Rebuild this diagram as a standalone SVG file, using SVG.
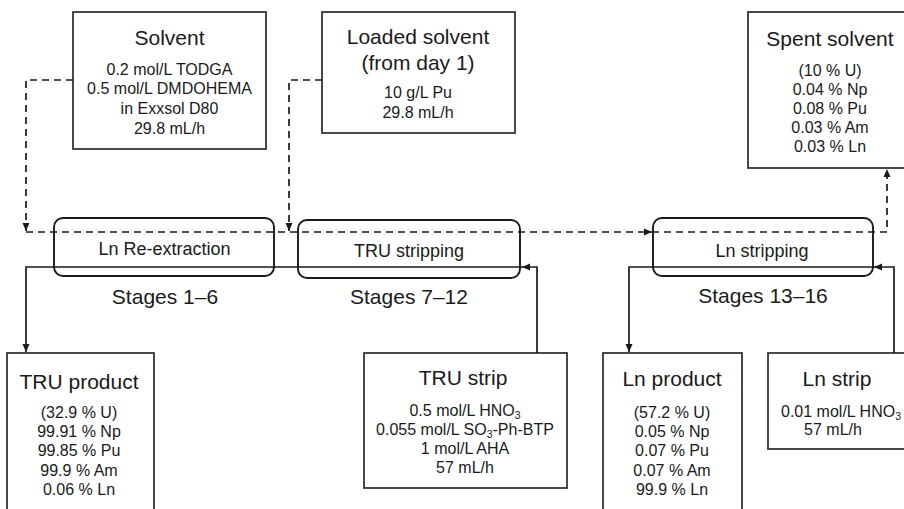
<svg xmlns="http://www.w3.org/2000/svg" width="904" height="509" viewBox="0 0 904 509">
<defs>
<marker id="arr" markerUnits="userSpaceOnUse" markerWidth="8" markerHeight="8" refX="8" refY="4" orient="auto">
<path d="M0,0.5 L8,4 L0,7.5 z" fill="#1a1a1a"/>
</marker>
</defs>
<style>
.box{fill:#fff;stroke:#2a2a2a;stroke-width:1.7}
.stage{fill:none;stroke:#1a1a1a;stroke-width:1.9}
.t{font-family:"Liberation Sans",Arial,sans-serif;fill:#1a1a1a;text-anchor:middle}
.ti{font-size:21px}
.b{font-size:16px}
.s{font-size:18px}
.sub{font-size:10.5px}
.solid{fill:none;stroke:#1a1a1a;stroke-width:1.7}
.dash{fill:none;stroke:#1a1a1a;stroke-width:1.7;stroke-dasharray:7 5}
</style>
<rect width="904" height="509" fill="#fff"/>

<g id="solvent">
<rect class="box" x="73" y="12" width="193" height="137"/>
<text class="t ti" x="169.5" y="44.5">Solvent</text>
<text class="t b" x="169.5" y="74.5">0.2 mol/L TODGA</text>
<text class="t b" x="169.5" y="94">0.5 mol/L DMDOHEMA</text>
<text class="t b" x="169.5" y="114">in Exxsol D80</text>
<text class="t b" x="169.5" y="134">29.8 mL/h</text>
</g>

<g id="loaded-solvent">
<rect class="box" x="322" y="12" width="193" height="121"/>
<text class="t ti" x="418" y="43.5">Loaded solvent</text>
<text class="t ti" x="418" y="70">(from day 1)</text>
<text class="t b" x="418" y="97.5">10 g/L Pu</text>
<text class="t b" x="418" y="117.5">29.8 mL/h</text>
</g>

<g id="spent-solvent">
<rect class="box" x="748" y="12" width="170" height="156"/>
<text class="t ti" x="830" y="45.5">Spent solvent</text>
<text class="t b" x="830" y="76">(10 % U)</text>
<text class="t b" x="830" y="95">0.04 % Np</text>
<text class="t b" x="830" y="114">0.08 % Pu</text>
<text class="t b" x="830" y="133">0.03 % Am</text>
<text class="t b" x="830" y="152">0.03 % Ln</text>
</g>

<g id="ln-reextraction">
<rect class="stage" x="54" y="218" width="220" height="58" rx="9"/>
<text class="t s" x="164.5" y="254.5">Ln Re-extraction</text>
<text class="t ti" x="165" y="304">Stages 1–6</text>
</g>

<g id="tru-stripping">
<rect class="stage" x="298" y="220" width="222" height="58" rx="9"/>
<text class="t s" x="409" y="256.5">TRU stripping</text>
<text class="t ti" x="409" y="304">Stages 7–12</text>
</g>

<g id="ln-stripping">
<rect class="stage" x="653" y="218" width="220" height="58" rx="9"/>
<text class="t s" x="762" y="256.5">Ln stripping</text>
<text class="t ti" x="763" y="302.5">Stages 13–16</text>
</g>

<g id="tru-product">
<rect class="box" x="7" y="353" width="147" height="170"/>
<text class="t ti" x="79" y="388.5">TRU product</text>
<text class="t b" x="79" y="417.5">(32.9 % U)</text>
<text class="t b" x="79" y="436.5">99.91 % Np</text>
<text class="t b" x="79" y="456">99.85 % Pu</text>
<text class="t b" x="79" y="475.5">99.9 % Am</text>
<text class="t b" x="79" y="494.5">0.06 % Ln</text>
</g>

<g id="tru-strip">
<rect class="box" x="364" y="353" width="203" height="135"/>
<text class="t ti" x="463" y="384.5">TRU strip</text>
<text class="t b" x="465" y="415.5">0.5 mol/L HNO<tspan class="sub" dy="3.5">3</tspan></text>
<text class="t b" x="465" y="434.5">0.055 mol/L SO<tspan class="sub" dy="3.5">3</tspan><tspan dy="-3.5">-Ph-BTP</tspan></text>
<text class="t b" x="465" y="453.5">1 mol/L AHA</text>
<text class="t b" x="465" y="472.5">57 mL/h</text>
</g>

<g id="ln-product">
<rect class="box" x="603" y="353" width="139" height="170"/>
<text class="t ti" x="672" y="385.5">Ln product</text>
<text class="t b" x="672" y="417.5">(57.2 % U)</text>
<text class="t b" x="672" y="436.5">0.05 % Np</text>
<text class="t b" x="672" y="456">0.07 % Pu</text>
<text class="t b" x="672" y="475.5">0.07 % Am</text>
<text class="t b" x="672" y="494.5">99.9 % Ln</text>
</g>

<g id="ln-strip">
<rect class="box" x="768" y="353" width="150" height="96"/>
<text class="t ti" x="837" y="385.5">Ln strip</text>
<text class="t b" x="841" y="416.5">0.01 mol/L HNO<tspan class="sub" dy="3.5">3</tspan></text>
<text class="t b" x="833" y="435">57 mL/h</text>
</g>

<g id="connectors">
<path class="dash" d="M73,80 H26 V231" marker-end="url(#arr)"/>
<path class="dash" d="M322,80 H289 V231" marker-end="url(#arr)"/>
<path class="dash" d="M26,232 H652" marker-end="url(#arr)"/>
<path class="dash" d="M652,232 H887 V169" marker-end="url(#arr)"/>
<path class="solid" d="M537,353 V267 H522" marker-end="url(#arr)"/>
<path class="solid" d="M522,267 H26 V352" marker-end="url(#arr)"/>
<path class="solid" d="M894,353 V267 H874" marker-end="url(#arr)"/>
<path class="solid" d="M874,267 H629 V352" marker-end="url(#arr)"/>
</g>
</svg>
